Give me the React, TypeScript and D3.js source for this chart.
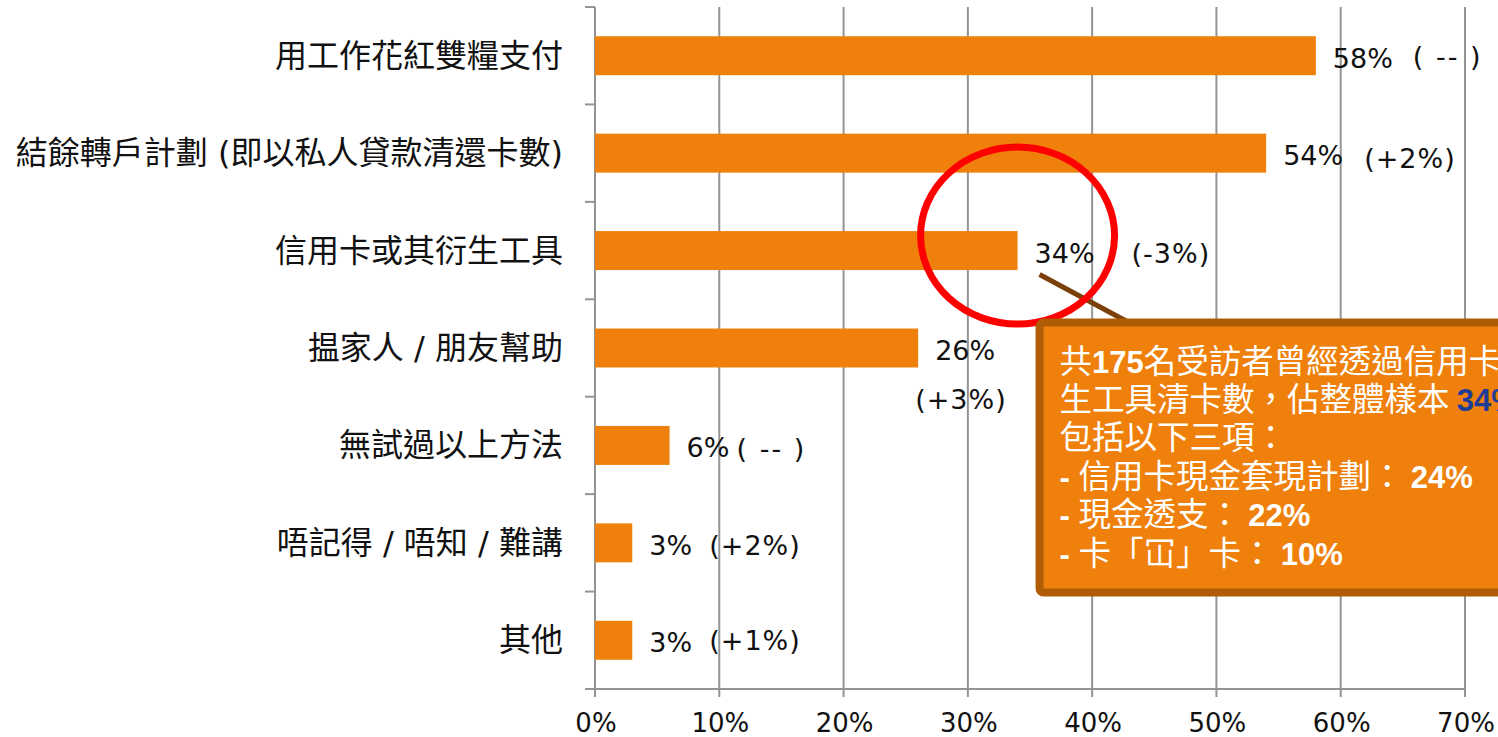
import React from 'react'
import * as d3 from 'd3'

const categories = [
  '用工作花紅雙糧支付',
  '結餘轉戶計劃 (即以私人貸款清還卡數)',
  '信用卡或其衍生工具',
  '揾家人 / 朋友幫助',
  '無試過以上方法',
  '唔記得 / 唔知 / 難講',
  '其他',
]
const values = [58, 54, 34, 26, 6, 3, 3]
const changes = ['( -- )', '(+2%)', '(-3%)', '(+3%)', '( -- )', '(+2%)', '(+1%)']
const xTicks = [0, 10, 20, 30, 40, 50, 60, 70]

// hand placed change labels (offset from bar end / band centre)
const changeOffsets: [number, number][] = [
  [97, -2],
  [98, 3],
  [114, 0],
  [-3, 49],
  [67, 1],
  [77, 0],
  [77, -2],
]

const calloutLines = [
  [{ t: '共' }, { t: '175', b: true }, { t: '名受訪者曾經透過信用卡衍' }],
  [{ t: '生工具清卡數，佔整體樣本 ' }, { t: '34%', b: true, blue: true }],
  [{ t: '包括以下三項：' }],
  [{ t: '- ', b: true }, { t: '信用卡現金套現計劃： ' }, { t: '24%', b: true }],
  [{ t: '- ', b: true }, { t: '現金透支： ' }, { t: '22%', b: true }],
  [{ t: '- ', b: true }, { t: '卡「冚」卡： ' }, { t: '10%', b: true }],
]

const W = 1498
const H = 737
const margin = { top: 7, left: 595, bottom: 48, right: 33 }
const orange = '#EF800B'
const grid = '#949494'
const cjk = '"Noto Sans CJK TC", "Noto Sans CJK SC", sans-serif'
const latin = '"DejaVu Sans", Verdana, sans-serif'
const mixed = '"DejaVu Sans", "Noto Sans CJK TC", sans-serif'

export default function App() {
  const x = d3
    .scaleLinear()
    .domain([0, 70])
    .range([margin.left, W - margin.right])
  const y = d3
    .scaleBand<string>()
    .domain(categories)
    .range([margin.top, H - margin.bottom])
    .paddingInner(0.6)
    .paddingOuter(0.3)
  const step = y.step()
  const bottom = H - margin.bottom
  const boundaries = d3.range(categories.length + 1).map((i) => margin.top + i * step)

  // annotation anchored on third bar
  const hiX = x(values[2])
  const hiY = (y(categories[2]) as number) + y.bandwidth() / 2

  return (
    <svg
      width={W}
      height={H}
      style={{ position: 'absolute', left: 0, top: 0, background: '#fff' }}
    >
      {/* grid */}
      {xTicks.slice(1).map((t) => (
        <line key={t} x1={x(t)} x2={x(t)} y1={margin.top} y2={bottom} stroke={grid} strokeWidth={2} />
      ))}
      {/* axes */}
      <line x1={x(0)} x2={x(0)} y1={margin.top} y2={bottom + 8} stroke={grid} strokeWidth={2} />
      <line x1={x(0) - 10} x2={x(70) + 1} y1={bottom} y2={bottom} stroke={grid} strokeWidth={2} />
      {boundaries.map((b, i) => (
        <line key={i} x1={x(0) - 10} x2={x(0)} y1={b} y2={b} stroke={grid} strokeWidth={2} />
      ))}
      {xTicks.map((t) => (
        <g key={t}>
          <line x1={x(t)} x2={x(t)} y1={bottom} y2={bottom + 8} stroke={grid} strokeWidth={2} />
          <text x={x(t) + 1} y={bottom + 43} textAnchor="middle" fontFamily={latin} fontSize={26} fill="#111">
            {t}%
          </text>
        </g>
      ))}
      {/* bars */}
      {categories.map((c, i) => {
        const cy = (y(c) as number) + y.bandwidth() / 2
        return (
          <g key={c}>
            <rect x={x(0)} y={y(c)} width={x(values[i]) - x(0)} height={y.bandwidth()} fill={orange} />
            <text x={x(0) - 32} y={cy + 11} textAnchor="end" fontFamily={mixed} fontSize={32} fill="#111">
              {c}
            </text>
            <text x={x(values[i]) + 17} y={cy + 12} fontFamily={latin} fontSize={27} fill="#111">
              {values[i]}%
            </text>
            <text
              x={x(values[i]) + changeOffsets[i][0]}
              y={cy + 12 + changeOffsets[i][1]}
              fontFamily={latin}
              fontSize={27}
              fill="#111"
              letterSpacing={changes[i].includes('--') ? 2 : 1}
              xmlSpace="preserve"
            >
              {changes[i]}
            </text>
          </g>
        )
      })}
      {/* callout */}
      <line x1={hiX + 22} y1={hiY + 24} x2={hiX + 115} y2={hiY + 74} stroke="#7B3F0A" strokeWidth={5} />
      <ellipse cx={hiX} cy={hiY - 15} rx={97} ry={88.5} fill="none" stroke="#FF0000" strokeWidth={7} />
      <rect x={hiX + 22} y={hiY + 72} width={520} height={270} rx={4} fill={orange} stroke="#B05C05" strokeWidth={8} />
      {calloutLines.map((line, i) => (
        <text key={i} x={hiX + 42} y={hiY + 122 + i * 38.4} fontSize={32} fill="#fff" xmlSpace="preserve">
          {line.map((s: any, j) => (
            <tspan
              key={j}
              fontFamily={s.b ? '"Liberation Sans", Arial, sans-serif' : cjk}
              fontWeight={s.b ? 'bold' : 'normal'}
              fontSize={s.b ? 31 : 32.5}
              fill={s.blue ? '#1F3C96' : '#fff'}
            >
              {s.t}
            </tspan>
          ))}
        </text>
      ))}
    </svg>
  )
}
